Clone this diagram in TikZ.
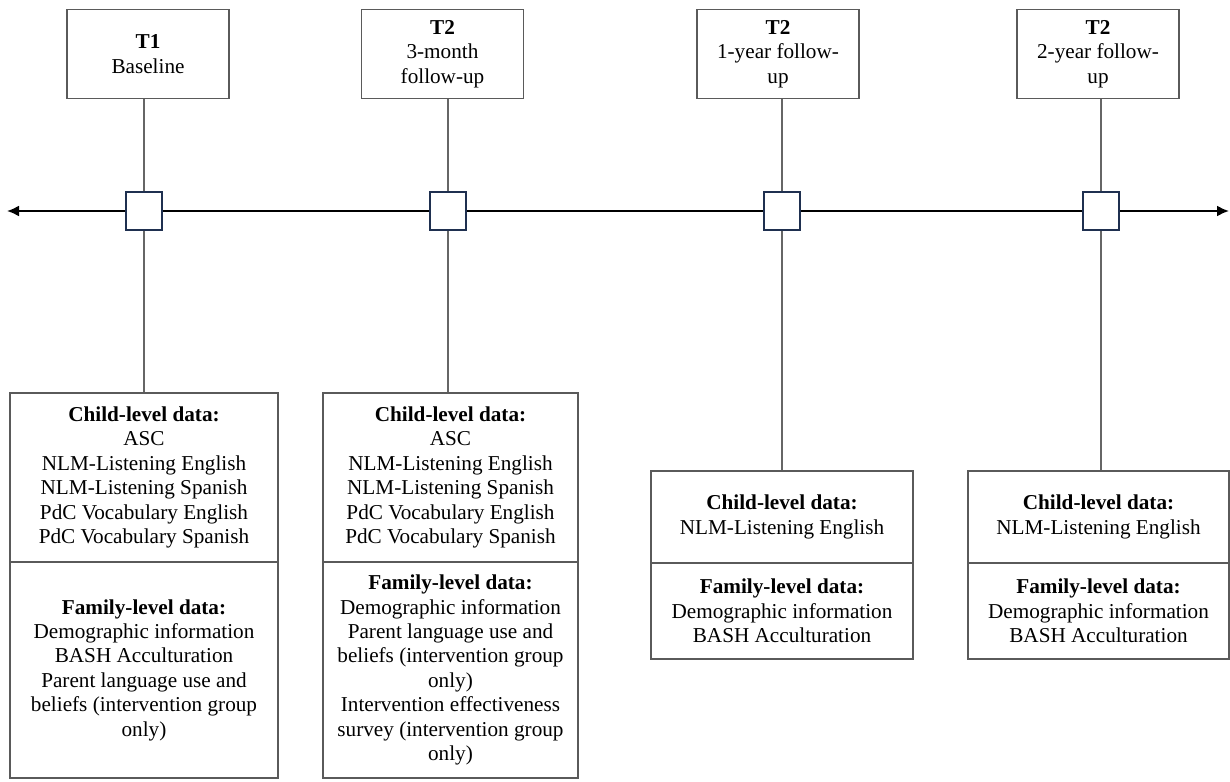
\documentclass[tikz,border=0pt]{standalone}
\usepackage{fontspec}
\setmainfont{Liberation Serif}
\usetikzlibrary{arrows.meta}
\definecolor{boxline}{HTML}{5A5A5A}
\definecolor{vline}{HTML}{666666}
\definecolor{navy}{HTML}{1F3050}
\tikzset{
  txt/.style={font=\fontsize{21.2}{24.4}\selectfont, align=center, inner sep=0pt},
  topbox/.style={txt, draw=boxline, line width=1.3pt, minimum width=162pt, minimum height=89pt},
  secbox/.style={txt, draw=boxline, line width=1.3pt},
  marker/.style={draw=navy, line width=1.6pt, fill=white, minimum width=36pt, minimum height=38pt, inner sep=0pt},
  stem/.style={draw=vline, line width=1.2pt},
  axis/.style={draw=black, line width=2pt, {Latex[length=12pt,width=11pt]}-{Latex[length=12pt,width=11pt]}}
}
\begin{document}
\begin{tikzpicture}[x=1pt,y=-1pt]
\useasboundingbox (0,0) rectangle (1230,781);
% time points on the axis
\coordinate (x1) at (144,211);
\coordinate (x2) at (448,211);
\coordinate (x3) at (782,211);
\coordinate (x4) at (1101,211);
% top boxes
\node[topbox] (t1) at (148,54) {\textbf{T1}\\Baseline};
\node[topbox] (t2) at (442.5,54) {\textbf{T2}\\3-month\\follow-up};
\node[topbox] (t3) at (778,54) {\textbf{T2}\\1-year follow-\\up};
\node[topbox] (t4) at (1098,54) {\textbf{T2}\\2-year follow-\\up};
% bottom boxes
\node[secbox, minimum width=268pt, minimum height=169pt] (c1) at (144,477.5)
  {\textbf{Child-level data:}\\ASC\\NLM-Listening English\\NLM-Listening Spanish\\PdC Vocabulary English\\PdC Vocabulary Spanish};
\node[secbox, minimum width=268pt, minimum height=216pt] (f1) at (144,670)
  {\textbf{Family-level data:}\\Demographic information\\BASH Acculturation\\Parent language use and\\beliefs (intervention group\\only)};
\node[secbox, minimum width=255pt, minimum height=169pt] (c2) at (450.5,477.5)
  {\textbf{Child-level data:}\\ASC\\NLM-Listening English\\NLM-Listening Spanish\\PdC Vocabulary English\\PdC Vocabulary Spanish};
\node[secbox, minimum width=255pt, minimum height=216pt] (f2) at (450.5,670)
  {\textbf{Family-level data:}\\Demographic information\\Parent language use and\\beliefs (intervention group\\only)\\Intervention effectiveness\\survey (intervention group\\only)};
\node[secbox, minimum width=262pt, minimum height=92pt] (c3) at (782,517)
  {\textbf{Child-level data:}\\NLM-Listening English};
\node[secbox, minimum width=262pt, minimum height=96pt] (f3) at (782,611)
  {\textbf{Family-level data:}\\Demographic information\\BASH Acculturation};
\node[secbox, minimum width=261pt, minimum height=92pt] (c4) at (1098.5,517)
  {\textbf{Child-level data:}\\NLM-Listening English};
\node[secbox, minimum width=261pt, minimum height=96pt] (f4) at (1098.5,611)
  {\textbf{Family-level data:}\\Demographic information\\BASH Acculturation};
% stems
\draw[stem] (x1 |- t1.south) -- (x1 |- c1.north);
\draw[stem] (x2 |- t2.south) -- (x2 |- c2.north);
\draw[stem] (x3 |- t3.south) -- (x3 |- c3.north);
\draw[stem] (x4 |- t4.south) -- (x4 |- c4.north);
% axis
\coordinate (axl) at (7,211);
\coordinate (axr) at (1229,211);
\draw[axis] (axl) -- (axr);
% markers
\node[marker] (m1) at (x1) {};
\node[marker] (m2) at (x2) {};
\node[marker] (m3) at (x3) {};
\node[marker] (m4) at (x4) {};
\end{tikzpicture}
\end{document}
